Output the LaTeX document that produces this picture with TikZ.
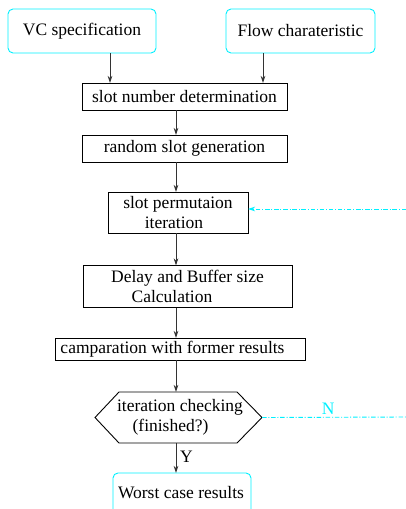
\documentclass[tikz,border=0pt]{standalone}
\usepackage{fontspec}
\setmainfont{Liberation Serif}
\newfontfamily\tms{Liberation Serif}
\usetikzlibrary{arrows.meta,calc}
\definecolor{cyn}{RGB}{0,240,255}
\begin{document}
\begin{tikzpicture}[x=1pt,y=-1pt,
  every node/.style={font=\tms\fontsize{17.5}{20}\selectfont, inner sep=0pt, outer sep=0pt},
  startbox/.style={draw=cyn, rounded corners=5pt, line width=0.9pt},
  procbox/.style={draw=black, line width=0.9pt, align=center},
  arr/.style={draw=black!80, line width=0.9pt, -{Stealth[length=7pt,width=4.5pt,inset=2pt]}},
  fb/.style={draw=cyn, line width=0.9pt, dash pattern=on 4.5pt off 1.8pt on 1pt off 1.8pt},
  fbarr/.style={fb, -{Stealth[length=7pt,width=4.5pt,inset=2pt]}}
]
\clip (0,0) rectangle (406,509);
\useasboundingbox (0,0) rectangle (406,509);

\node[startbox, minimum width=148pt, minimum height=44pt] (vc) at (82,31) {VC specification};
\node[startbox, minimum width=149pt, minimum height=44pt] (flow) at (300.5,31) {Flow charateristic};
\node[procbox, minimum width=205pt, minimum height=27pt] (sn) at (184.5,96.5) {slot number determination};
\node[procbox, minimum width=205pt, minimum height=27pt] (rs) at (184.5,148.5) {random slot generation};
\node[procbox, minimum width=140pt, minimum height=41pt] (perm) at (178,212.5) {slot permutaion\\iteration\hspace*{8pt}};
\node[procbox, minimum width=209pt, minimum height=42pt] (delay) at (187.5,286.5) {Delay and Buffer size\\Calculation\hspace*{31pt}};
\node[procbox, minimum width=250pt, minimum height=22pt] (camp) at (180,349) {camparation with former results\hspace*{15pt}};
\node[align=center, minimum width=167pt, minimum height=51pt] (chk) at (178.5,417.5) {\hspace*{3pt}iteration checking\\(finished?)\hspace*{16pt}};
\draw[line width=0.9pt] (chk.west) -- ($(chk.north west)+(24,0)$) -- ($(chk.north east)+(-25,0)$) -- (chk.east)
  -- ($(chk.south east)+(-25,0)$) -- ($(chk.south west)+(24,0)$) -- cycle;
\node[startbox, minimum width=138pt, minimum height=42pt] (worst) at (182,494) {};
\node (worsttext) at (181,493) {Worst case results};

\coordinate (spine) at (176,0);
\coordinate (fbin) at (406,209);
\coordinate (fbout) at (406,417);

\draw[arr] (vc.south -| 110,0) -- (sn.north -| 110,0);
\draw[arr] (flow.south -| 263,0) -- (sn.north -| 263,0);
\draw[arr] (sn.south -| spine) -- (rs.north -| spine);
\draw[arr] (rs.south -| spine) -- (perm.north -| spine);
\draw[arr] (perm.south -| spine) -- (delay.north -| spine);
\draw[arr] (delay.south -| spine) -- (camp.north -| spine);
\draw[arr] (camp.south -| spine) -- (chk.north -| spine);
\draw[arr] (chk.south -| spine) -- (worst.north -| spine) node[pos=0.45, right=4pt] (ylab) {Y};

\draw[fbarr] (fbin) -- (fbin -| perm.east);
\draw[fb] (chk.east) -- (fbout) node[pos=0.46, above=3pt, text=cyn] (nlab) {N};
\end{tikzpicture}
\end{document}
